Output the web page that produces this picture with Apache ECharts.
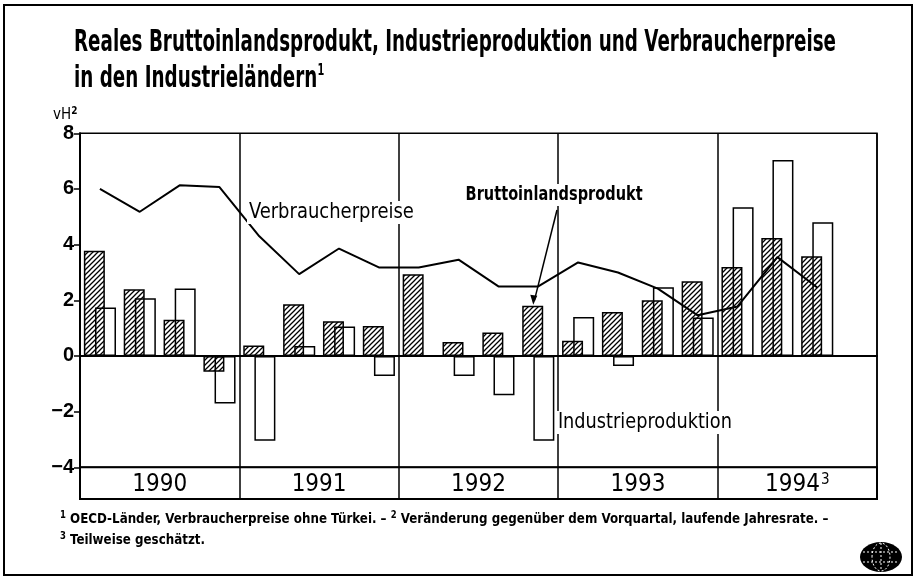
<!DOCTYPE html>
<html><head><meta charset="utf-8">
<script src="https://cdn.jsdelivr.net/npm/echarts@6/dist/echarts.min.js"></script>
<style>html,body{margin:0;padding:0;background:#fff}#c{width:915px;height:578px}</style>
</head><body><div id="c"></div>
<script>
// ---- data ----
const quarters = ['1990 I','1990 II','1990 III','1990 IV','1991 I','1991 II','1991 III','1991 IV',
  '1992 I','1992 II','1992 III','1992 IV','1993 I','1993 II','1993 III','1993 IV',
  '1994 I','1994 II','1994 III','1994 IV'];
const years = ['1990','1991','1992','1993','1994'];
const yearNotes = ['', '', '', '', '3'];
const gdp = [3.78, 2.40, 1.30, -0.57, 0.38, 1.86, 1.25, 1.08, 2.94, 0.50, 0.84, 1.80, 0.55, 1.58, 2.00, 2.68, 3.20, 4.24, 3.58, null];
const industry = [1.74, 2.07, 2.42, -1.71, -3.05, 0.36, 1.06, -0.72, null, -0.72, -1.41, -3.05, 1.40, -0.36, 2.47, 1.38, 5.34, 7.04, 4.80, null];
const cpi = [6.00, 5.18, 6.13, 6.07, 4.30, 2.94, 3.86, 3.18, 3.18, 3.46, 2.50, 2.50, 3.36, 3.00, 2.42, 1.46, 1.78, 3.55, 2.46, null];
const yMin = -4, yMax = 8, yStep = 2;

const NARROW = "'Liberation Sans Narrow', 'DejaVu Sans Condensed', 'Liberation Sans', sans-serif";

function hatch() {
  const c = document.createElement('canvas');
  c.width = 5; c.height = 5;
  const g = c.getContext('2d');
  g.strokeStyle = '#000'; g.lineWidth = 1.3; g.lineCap = 'square';
  g.beginPath();
  g.moveTo(-1, 6); g.lineTo(6, -1);
  g.moveTo(-1, 1); g.lineTo(1, -1);
  g.moveTo(4, 6); g.lineTo(6, 4);
  g.stroke();
  return c;
}
const mctx = document.createElement('canvas').getContext('2d');
function tw(text, font) { mctx.font = font; return mctx.measureText(text).width; }

const chart = echarts.init(document.getElementById('c'), null, {renderer: 'canvas'});
const G = {left: 80, top: 133.3, width: 797, height: 334};
const option = {
  animation: false,
  backgroundColor: '#fff',
  grid: [
    {left: G.left, top: G.top, width: G.width, height: G.height, show: true, borderColor: '#000', borderWidth: 1.5, backgroundColor: 'transparent'},
    {left: G.left, top: G.top + G.height, width: G.width, height: 31.7, show: true, borderColor: '#000', borderWidth: 2}
  ],
  xAxis: [
    {type: 'category', gridIndex: 0, data: quarters, axisLine: {show: true, onZero: true, lineStyle: {color: '#000', width: 2}},
     axisTick: {show: false}, axisLabel: {show: false}, splitLine: {show: false}},
    {type: 'category', gridIndex: 0, position: 'top', data: years, axisLine: {show: false}, axisTick: {show: false},
     axisLabel: {show: false}, splitLine: {show: true, lineStyle: {color: '#000', width: 1.5}}},
    {type: 'category', gridIndex: 1, data: years, axisLine: {show: false}, axisTick: {show: false},
     splitLine: {show: true, lineStyle: {color: '#000', width: 1.5}},
     axisLabel: {interval: 0, margin: -26, color: '#000', fontFamily: NARROW, fontSize: 24,
       formatter: (v, i) => '{a|' + v + '}' + (yearNotes[i] ? '{s|' + yearNotes[i] + '}' : ''),
       rich: {a: {fontFamily: NARROW, fontSize: 24, color: '#000'},
              s: {fontFamily: NARROW, fontSize: 15, color: '#000', verticalAlign: 'top', padding: [0, 0, 0, 1]}}}}
  ],
  yAxis: [
    {type: 'value', gridIndex: 0, min: yMin, max: yMax, interval: yStep,
     axisLine: {show: true, lineStyle: {color: '#000', width: 2}},
     axisTick: {show: true, length: 6, lineStyle: {color: '#000', width: 1.5}},
     axisLabel: {color: '#000', fontFamily: "'Liberation Sans', sans-serif", fontWeight: 'bold', fontSize: 20, margin: 6,
       formatter: v => String(v).replace('-', '\u2212')},
     splitLine: {show: false}},
    {type: 'value', gridIndex: 1, show: false}
  ],
  series: [
    {name: 'Bruttoinlandsprodukt', type: 'bar', xAxisIndex: 0, yAxisIndex: 0, data: gdp, barWidth: 21, barGap: '-47%', z: 3,
     itemStyle: {color: {image: hatch(), repeat: 'repeat'}, borderColor: '#000', borderWidth: 1.5}},
    {name: 'Industrieproduktion', type: 'bar', xAxisIndex: 0, yAxisIndex: 0, data: industry, barWidth: 21, barGap: '-47%', z: 2,
     itemStyle: {color: '#fff', borderColor: '#000', borderWidth: 1.5}},
    {name: 'Verbraucherpreise', type: 'line', xAxisIndex: 0, yAxisIndex: 0, data: cpi, z: 4, showSymbol: false, symbol: 'none',
     lineStyle: {color: '#000', width: 2}}
  ]
};
chart.setOption(option);

const tip = chart.convertToPixel({xAxisIndex: 0, yAxisIndex: 0}, [11, gdp[11]]);
const tipX = tip[0] - 5, tipY = tip[1] - 1;

const FONT_T = 'bold 30px ' + NARROW;
const T1 = 'Reales Bruttoinlandsprodukt, Industrieproduktion und Verbraucherpreise';
const sT = 762 / tw(T1, FONT_T);
const SUPF = 'bold 10px ' + NARROW;
function fitted(text, font, x, y, width, extra) {
  const s = width / tw(text, font);
  return Object.assign({type: 'text', z: 100, x: x, y: y, scaleX: s,
    style: Object.assign({text: text, font: font, fill: '#000', x: 0, y: 0, align: 'left', verticalAlign: 'top'}, extra || {})});
}
const FN1a = 'OECD-Länder, Verbraucherpreise ohne Türkei. – ';
const FN1b = 'Veränderung gegenüber dem Vorquartal, laufende Jahresrate. –';
const FNF = 'bold 14px ' + NARROW;
const fnW = tw(FN1a + FN1b, FNF) + tw('1 2 ', SUPF);
const sF = 766 / fnW;
const supRich = {s: {font: SUPF, verticalAlign: 'top', padding: [0, 0, 8, 0], fill: '#000'}};

chart.setOption({
  graphic: [
    {type: 'rect', z: 100, shape: {x: 4, y: 5, width: 908, height: 570}, style: {fill: null, stroke: '#000', lineWidth: 2}},
    {type: 'text', z: 100, x: 74, y: 28, scaleX: sT, style: {text: T1, font: FONT_T, fill: '#000', x: 0, y: 0, verticalAlign: 'top'}},
    {type: 'text', z: 100, x: 74, y: 63, scaleX: sT, style: {text: 'in den Industrieländern{s|1}', font: FONT_T, fill: '#000', x: 0, y: 0, verticalAlign: 'top',
      rich: {s: {font: 'bold 16px ' + NARROW, verticalAlign: 'top', padding: [0, 0, 16, 0], fill: '#000'}}}},
    {type: 'text', z: 100, x: 53, y: 106, style: {text: 'vH{s|2}', font: '15px ' + NARROW, fill: '#000', x: 0, y: 0, verticalAlign: 'top',
      rich: {s: {font: 'bold 10px ' + NARROW, verticalAlign: 'top', padding: [0, 0, 8, 0], fill: '#000'}}}},
    fitted('Verbraucherpreise', '21px ' + NARROW, 247, 201, 165, {backgroundColor: '#fff', padding: [1, 2]}),
    fitted('Bruttoinlandsprodukt', 'bold 20px ' + NARROW, 464, 184, 177, {backgroundColor: '#fff', padding: [1, 2]}),
    fitted('Industrieproduktion', '21px ' + NARROW, 556, 411, 174, {backgroundColor: '#fff', padding: [1, 2]}),
    {type: 'line', z: 100, shape: {x1: 557, y1: 210, x2: tipX + 1, y2: tipY - 4}, style: {stroke: '#000', lineWidth: 1.5}},
    {type: 'polygon', z: 100, shape: {points: [[tipX, tipY], [tipX - 3, tipY - 10], [tipX + 4, tipY - 9]]}, style: {fill: '#000'}},
    {type: 'text', z: 100, x: 60, y: 510, scaleX: sF, style: {text: '{s|1} ' + FN1a + '{s|2} ' + FN1b,
      font: FNF, fill: '#000', x: 0, y: 0, verticalAlign: 'top', rich: supRich}},
    {type: 'text', z: 100, x: 60, y: 531, scaleX: sF, style: {text: '{s|3} Teilweise geschätzt.',
      font: FNF, fill: '#000', x: 0, y: 0, verticalAlign: 'top', rich: supRich}},
    {type: 'group', z: 100, x: 860, y: 542, children: [
      {type: 'ellipse', shape: {cx: 21, cy: 15, rx: 21, ry: 15}, style: {fill: '#000'}},
      {type: 'ellipse', shape: {cx: 21, cy: 15, rx: 9, ry: 14}, style: {fill: null, stroke: '#fff', lineWidth: 1, lineDash: [2, 2]}},
      {type: 'line', shape: {x1: 3, y1: 10, x2: 39, y2: 10}, style: {stroke: '#fff', lineWidth: 1, lineDash: [2, 2]}},
      {type: 'line', shape: {x1: 3, y1: 20, x2: 39, y2: 20}, style: {stroke: '#fff', lineWidth: 1, lineDash: [2, 2]}},
      {type: 'line', shape: {x1: 21, y1: 1, x2: 21, y2: 29}, style: {stroke: '#fff', lineWidth: 1, lineDash: [2, 2]}}
    ]}
  ]
});
</script></body></html>
